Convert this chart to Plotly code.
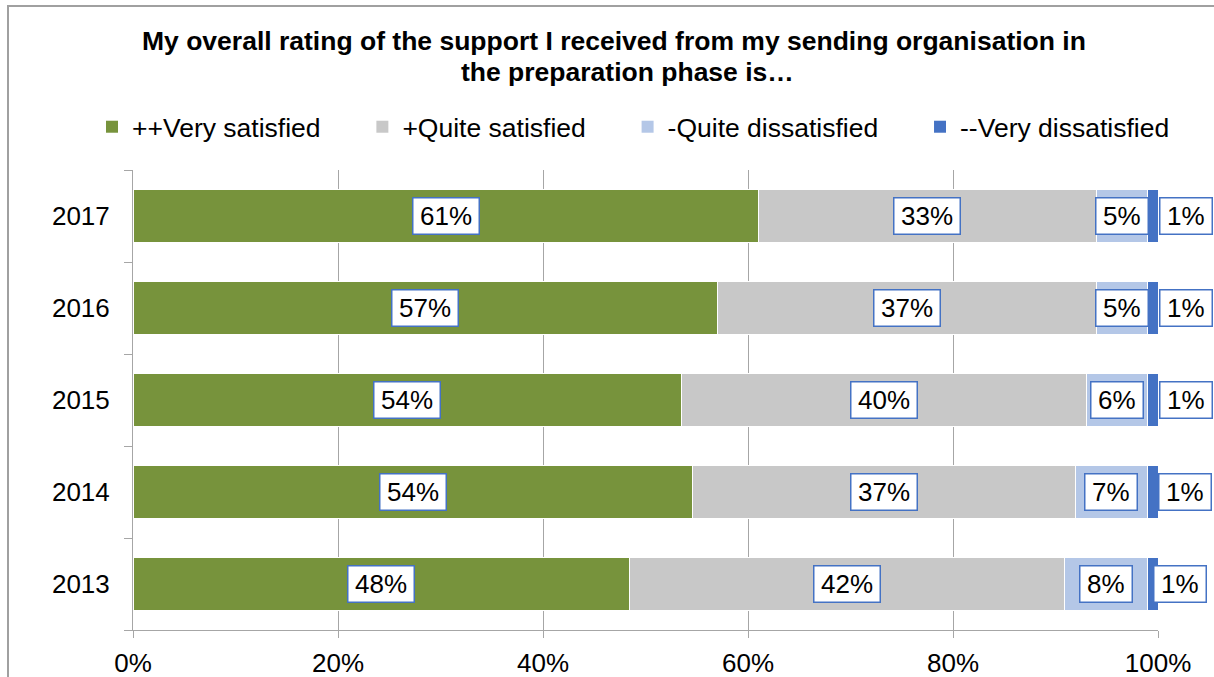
import plotly.graph_objects as go

# Survey results per year (values in %)
years = ["2013", "2014", "2015", "2016", "2017"]
very_satisfied = [48, 54, 54, 57, 61]
quite_satisfied = [42, 37, 40, 37, 33]
quite_dissatisfied = [8, 7, 6, 5, 5]
very_dissatisfied = [1, 1, 1, 1, 1]

series_names = ["++Very satisfied", "+Quite satisfied", "-Quite dissatisfied", "--Very dissatisfied"]
series_colors = ["#77933C", "#C8C8C8", "#B4C7E7", "#4472C4"]
x_tick_vals = [0, 20, 40, 60, 80, 100]
x_tick_text = ["0%", "20%", "40%", "60%", "80%", "100%"]

FONT = "Arial, Liberation Sans, sans-serif"
GRID = "#A6A6A6"
W, H = 1214, 677
ML, MR, MT, MB = 133, 56, 170, 47
PW, PH = W - ML - MR, H - MT - MB


def px_x(p):
    return (p - ML) / PW


def px_y(p):
    return (H - MB - p) / PH


series = [very_satisfied, quite_satisfied, quite_dissatisfied, very_dissatisfied]
pad = "\u00a0" * 5

fig = go.Figure()
for i, (name, vals, col) in enumerate(zip(series_names, series, series_colors)):
    fig.add_trace(go.Bar(
        y=years, x=vals, orientation="h", name=name, showlegend=False,
        marker=dict(color=col, line=dict(color="white", width=1)),
        hoverinfo="skip",
    ))
# legend entries with square swatches
for i, (name, col) in enumerate(zip(series_names, series_colors)):
    fig.add_trace(go.Scatter(
        x=[None], y=[None], mode="markers",
        name=name + (pad if i < len(series_names) - 1 else ""),
        marker=dict(symbol="square", size=12, color=col),
        showlegend=True,
    ))


def label_width(text):
    digits = sum(c.isdigit() for c in text)
    return digits * 0.556 * 26 + 0.889 * 26 + 11


annotations = []
# value boxes: centred on each normalised segment, last series beside the bar end
right_shift = [22, 27, 28, 28, 28]
for j, yr in enumerate(years):
    total = sum(s[j] for s in series)
    cum = 0
    for i, s in enumerate(series):
        v = s[j]
        txt = f"{v}%"
        common = dict(
            text=txt, showarrow=False, yref="y", y=j,
            font=dict(family=FONT, size=26, color="black"),
            bgcolor="white", bordercolor="#4472C4", borderwidth=1.5, borderpad=1,
            width=label_width(txt), height=33,
        )
        if i == len(series) - 1:
            annotations.append(dict(xref="paper", x=1, xanchor="center", xshift=right_shift[j], **common))
        else:
            centre = (cum + v / 2) / total * 100
            annotations.append(dict(xref="x", x=centre, xanchor="center", **common))
        cum += v

# two-line chart title
annotations.append(dict(
    text="<b>My overall rating of the support I received from my sending organisation in</b>",
    xref="paper", yref="paper", x=px_x(614), y=px_y(41), xanchor="center", yanchor="middle",
    showarrow=False, font=dict(family=FONT, size=26.5, color="black"),
))
annotations.append(dict(
    text="<b>the preparation phase is…</b>",
    xref="paper", yref="paper", x=px_x(627), y=px_y(72), xanchor="center", yanchor="middle",
    showarrow=False, font=dict(family=FONT, size=26.5, color="black"),
))

fig.update_layout(
    width=W, height=H,
    margin=dict(l=ML, r=MR, t=MT, b=MB, pad=0, autoexpand=False),
    barmode="stack", barnorm="percent", bargap=0.43,
    paper_bgcolor="white", plot_bgcolor="white",
    font=dict(family=FONT, size=26, color="black"),
    showlegend=True,
    legend=dict(
        orientation="h", x=px_x(92), xanchor="left", y=px_y(127), yanchor="middle",
        font=dict(family=FONT, size=26.5, color="black"), traceorder="normal",
        bgcolor="rgba(0,0,0,0)",
    ),
    xaxis=dict(
        range=[0, 100], tickmode="array", tickvals=x_tick_vals, ticktext=x_tick_text,
        showgrid=True, gridcolor=GRID, gridwidth=1,
        showline=True, linecolor=GRID, linewidth=1,
        ticks="outside", ticklen=7, tickcolor=GRID,
        ticklabelstandoff=3,
        zeroline=False, tickfont=dict(size=26), automargin=False,
    ),
    yaxis=dict(
        type="category", categoryorder="array", categoryarray=years,
        range=[-0.5, 4.5],
        showgrid=False, showline=True, linecolor=GRID, linewidth=1,
        ticks="outside", ticklen=8, tickcolor=GRID, tickson="boundaries",
        ticklabelstandoff=17, tickfont=dict(size=26), automargin=False,
    ),
    annotations=annotations,
    shapes=[dict(
        type="rect", xref="paper", yref="paper",
        x0=px_x(8), x1=px_x(1260), y0=px_y(720), y1=px_y(6),
        line=dict(color="#A0A0A0", width=2), fillcolor="rgba(0,0,0,0)", layer="above",
    )],
)

fig.write_html("out.html")
